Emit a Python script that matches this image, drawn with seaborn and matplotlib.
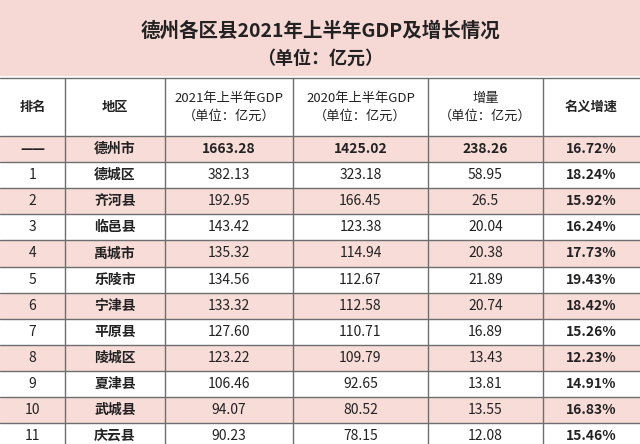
import matplotlib
matplotlib.use("Agg")
import matplotlib.pyplot as plt
import seaborn as sns

sns.set_theme(style="white")
plt.rcParams['font.family'] = ['Noto Sans CJK SC', 'DejaVu Sans']

title = "德州各区县2021年上半年GDP及增长情况"
subtitle = "（单位：亿元）"
headers = ["排名", "地区", "2021年上半年GDP\n（单位：亿元）", "2020年上半年GDP\n（单位：亿元）",
           "增量\n（单位：亿元）", "名义增速"]
ranks = ["——", "1", "2", "3", "4", "5", "6", "7", "8", "9", "10", "11"]
regions = ["德州市", "德城区", "齐河县", "临邑县", "禹城市", "乐陵市", "宁津县", "平原县",
           "陵城区", "夏津县", "武城县", "庆云县"]
gdp_2021 = ["1663.28", "382.13", "192.95", "143.42", "135.32", "134.56", "133.32", "127.60",
            "123.22", "106.46", "94.07", "90.23"]
gdp_2020 = ["1425.02", "323.18", "166.45", "123.38", "114.94", "112.67", "112.58", "110.71",
            "109.79", "92.65", "80.52", "78.15"]
increase = ["238.26", "58.95", "26.5", "20.04", "20.38", "21.89", "20.74", "16.89",
            "13.43", "13.81", "13.55", "12.08"]
growth = ["16.72%", "18.24%", "15.92%", "16.24%", "17.73%", "19.43%", "18.42%", "15.26%",
          "12.23%", "14.91%", "16.83%", "15.46%"]

col_edges = [0, 65, 165, 293, 428, 543, 640]
pink = "#f7dcd8"
line = "#6e6e6e"

fig = plt.figure(figsize=(6.4, 4.44), dpi=100)
ax = fig.add_axes([0, 0, 1, 1])
ax.set_xlim(0, 640)
ax.set_ylim(444, 0)
ax.axis("off")

# title band
ax.axhspan(0, 76, color="#f6d9d5", lw=0)
ax.text(320, 31, title, ha="center", va="center", fontsize=14, fontweight="bold", color="#222")
ax.text(320, 58, subtitle, ha="center", va="center", fontsize=13, fontweight="bold", color="#222")

head_top, head_bot = 78, 136
row_h = 26.1
ax.axhline(head_top, color=line, lw=1)
for j, h in enumerate(headers):
    cx = (col_edges[j] + col_edges[j + 1]) / 2
    ax.text(cx, (head_top + head_bot) / 2, h, ha="center", va="center", fontsize=9.5,
            color="#222", linespacing=1.5, fontweight="bold" if "\n" not in h else "normal")

columns = [ranks, regions, gdp_2021, gdp_2020, increase, growth]
for i in range(len(ranks)):
    top = head_bot + i * row_h
    if i % 2 == 0:
        ax.axhspan(top, top + row_h, color=pink, lw=0)
    ax.axhline(top, color=line, lw=1)
    for j, col in enumerate(columns):
        cx = (col_edges[j] + col_edges[j + 1]) / 2
        ax.text(cx, top + row_h / 2, col[i], ha="center", va="center", fontsize=10,
                color="#222", fontweight="bold" if j in (1, 5) or i == 0 else "normal")

for x in col_edges[1:-1]:
    ax.plot([x, x], [head_top, 444], color=line, lw=1)

fig.savefig("out.png", dpi=100)
